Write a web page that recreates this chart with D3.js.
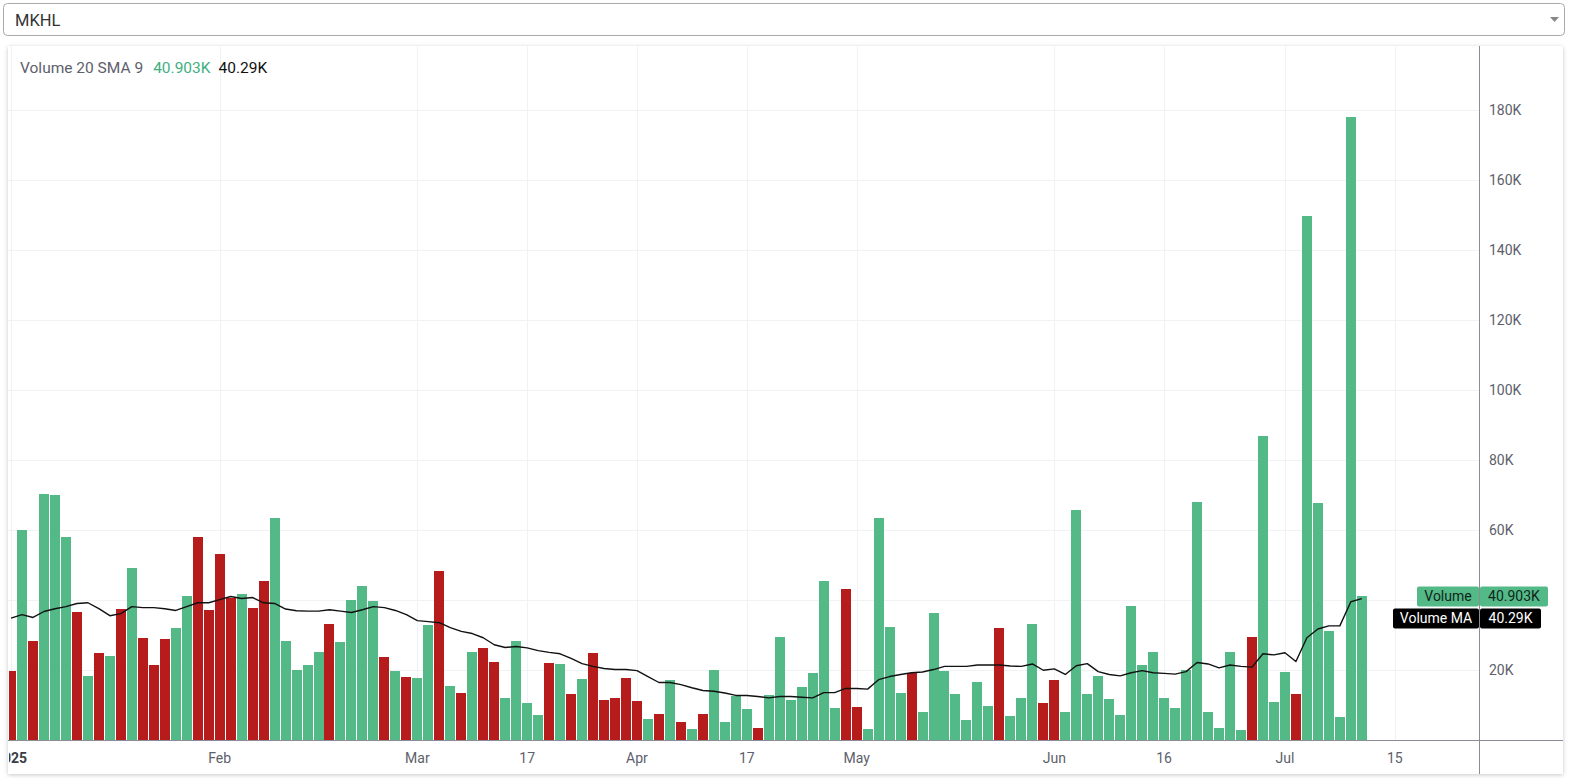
<!DOCTYPE html>
<html>
<head>
<meta charset="utf-8">
<script src="https://cdn.jsdelivr.net/npm/d3@7"></script>
<style>
  html, body { margin: 0; padding: 0; background: #ffffff; }
  svg { display: block; font-family: Roboto, "DejaVu Sans", sans-serif; }
</style>
</head>
<body>
<svg id="chart" width="1571" height="779"></svg>
<script>
// ---- data (volume in thousands) ----
const symbol = "MKHL";
const volumes = [19.7,60,28.3,70.3,70,58,36.6,18.3,24.6,24,37.4,48.9,28.9,21.4,28.6,32,41.1,58,37.1,52.9,
  40.6,41.7,37.7,45.4,63.4,28.3,20,21.4,24.9,32.9,28,40,44,39.7,23.7,19.7,18,17.7,32.6,48.3,
  15.4,13.4,25.1,26.3,22.3,12,28.3,10.3,7.1,22,21.7,13.1,17.4,24.6,11.4,12,17.7,11.1,6,7.4,
  16.9,4.9,2.9,7.4,20,5.1,12.3,8.6,3.4,12.6,29.4,11.4,14.9,19.1,45.4,9.1,43.1,9.4,2.9,63.4,
  32.3,13.4,19.1,8,36.3,19.7,12.9,5.7,16.3,9.7,32,6.6,12,33.1,10.3,17.1,8,65.7,12.9,18.3,
  11.7,6.9,38.3,21.4,25.1,12,8.9,20,68,8,3.4,24.9,2.6,29.4,86.9,10.6,19.4,12.9,149.7,67.7,
  31.1,6.3,178,40.903];
// 1 = up (green), 0 = down (red)
const direction = [0,1,0,1,1,1,0,1,0,1,0,1,0,0,0,1,1,0,0,0,
  0,1,0,0,1,1,1,1,1,0,1,1,1,1,0,1,0,1,1,0,
  1,0,1,0,0,1,1,1,1,0,1,0,1,0,0,0,0,0,1,0,
  1,0,1,0,1,1,1,1,0,1,1,1,1,1,1,1,0,0,1,1,
  1,1,0,1,1,1,1,1,1,1,0,1,1,1,0,0,1,1,1,1,
  1,1,1,1,1,1,1,1,1,1,1,1,1,0,1,1,1,0,1,1,
  1,1,1,1];
const maValues = [34.7,35.7,34.9,36.6,37.4,38,38.9,39.1,37.4,35.4,36,38,37.7,37.7,37.4,36.9,38,39.1,39.1,40,
  40.9,40.3,40.6,39.1,38.9,37.3,36.8,36.7,36.7,37.1,36.7,36.3,37.1,38,37.7,36.9,35.7,34,33.7,33.4,
  32,30.9,30.3,29.1,27.1,26.3,26.6,26.2,25.4,24.9,24.5,23.2,21.7,20.9,20.3,20,20,19.7,18,16.3,
  16.3,15.7,14.8,14,13.8,13.3,12.6,12.6,12.3,11.9,12.3,12.3,12.1,11.9,13.4,13.4,14.6,14.6,14.4,17.1,
  18,18.6,19.1,19.3,20,20.9,20.9,20.9,21.3,21.3,21.3,21,20.9,21.6,19.8,20.2,18.6,21.1,21.7,19.4,
  18.6,18.2,19.1,19.7,19.1,18.9,18.7,19.4,22,21.6,20.5,21.3,20.9,20.7,24.5,24.2,24.8,22.3,29.1,31.6,
  32.5,32.5,39.4,40.29];
const timeTickLabels = ["2025","Feb","Mar","17","Apr","17","May","Jun","16","Jul","15"];
const timeTickIndex  = [0,19,37,47,57,67,77,95,105,116,126];
const yTickValues = [20,40,60,80,100,120,140,160,180];
const legendTitle = "Volume 20 SMA 9";

// ---- styles ----
const GREEN = "#53b987", RED = "#b71c1c", GRID = "#f0f2f6", AXIS = "#8a8d96", TEXT = "#5d606b";

const svg = d3.select("#chart");
const pane = { left: 8, top: 46, right: 1479, bottom: 740 };
const card = { left: 8, top: 46, right: 1563, bottom: 774 };

const x = d3.scaleLinear().domain([0, 126]).range([11.02, 11.02 + 126 * 10.982]);
const y = d3.scaleLinear().domain([0, 180]).range([739.5, 110]);

const defs = svg.append("defs");
const f = defs.append("filter").attr("id", "sh").attr("x", "-2%").attr("y", "-2%").attr("width", "104%").attr("height", "106%");
f.append("feDropShadow").attr("dx", 0).attr("dy", 1).attr("stdDeviation", 2).attr("flood-color", "#000").attr("flood-opacity", 0.22);
defs.append("clipPath").attr("id", "paneClip").append("rect")
  .attr("x", pane.left + 1).attr("y", pane.top).attr("width", pane.right - pane.left - 1).attr("height", pane.bottom - pane.top);
defs.append("clipPath").attr("id", "timeClip").append("rect")
  .attr("x", pane.left + 1).attr("y", pane.bottom).attr("width", pane.right - pane.left - 1).attr("height", card.bottom - pane.bottom);

// select box
svg.append("rect").attr("x", 3.5).attr("y", 3.5).attr("width", 1561).attr("height", 32).attr("rx", 4)
  .attr("fill", "#fff").attr("stroke", "#a9a9a9");
svg.append("text").attr("x", 15).attr("y", 25.5).attr("font-size", 16.5).attr("fill", "#333").text(symbol);
svg.append("path").attr("d", "M1550,17 L1559,17 L1554.5,22 Z").attr("fill", "#888");

// card
svg.append("rect").attr("x", card.left).attr("y", card.top).attr("width", card.right - card.left)
  .attr("height", card.bottom - card.top).attr("fill", "#fff").attr("filter", "url(#sh)");

// grid
const grid = svg.append("g").attr("shape-rendering", "crispEdges");
grid.selectAll("line.h").data(yTickValues).join("line")
  .attr("x1", pane.left).attr("x2", pane.right)
  .attr("y1", d => Math.round(y(d)) + 0.5).attr("y2", d => Math.round(y(d)) + 0.5)
  .attr("stroke", GRID);
grid.selectAll("line.v").data(timeTickIndex).join("line")
  .attr("x1", d => Math.round(x(d)) + 0.5).attr("x2", d => Math.round(x(d)) + 0.5)
  .attr("y1", pane.top).attr("y2", pane.bottom)
  .attr("stroke", GRID).attr("clip-path", "url(#paneClip)");

// bars
const plot = svg.append("g").attr("clip-path", "url(#paneClip)");
plot.selectAll("rect.bar").data(volumes).join("rect")
  .attr("class", "bar")
  .attr("x", (d, i) => Math.round(x(i) - 5))
  .attr("width", 10)
  .attr("y", d => Math.round(y(d)))
  .attr("height", d => 740 - Math.round(y(d)))
  .attr("fill", (d, i) => direction[i] ? GREEN : RED)
  .attr("shape-rendering", "crispEdges");

// MA line
plot.append("path").datum(maValues)
  .attr("d", d3.line().x((d, i) => x(i)).y(d => y(d)))
  .attr("fill", "none").attr("stroke", "#111").attr("stroke-width", 1.4).attr("stroke-linejoin", "round");

// axes lines
svg.append("line").attr("x1", pane.left).attr("x2", card.right).attr("y1", 740.5).attr("y2", 740.5)
  .attr("stroke", AXIS);
svg.append("line").attr("x1", pane.right + 0.5).attr("x2", pane.right + 0.5).attr("y1", card.top).attr("y2", card.bottom)
  .attr("stroke", AXIS);

// last values
const fmtK = v => v + "K";
const lastVol = volumes[volumes.length - 1], lastMA = maValues[maValues.length - 1];
const volY = y(lastVol);

// y labels (a label hidden under the last-value tags is not drawn)
const yAxis = d3.axisRight(y).tickValues(yTickValues).tickFormat(d => d + "K").tickSize(0).tickPadding(0);
const ya = svg.append("g").attr("transform", `translate(${pane.right + 10},0)`).call(yAxis);
ya.select(".domain").remove();
ya.selectAll(".tick").filter(d => y(d) > volY - 18 && y(d) < volY + 34).remove();
ya.selectAll("text").attr("font-size", 14).attr("fill", TEXT).attr("font-family", "Roboto, sans-serif");

// time labels
const tl = svg.append("g").attr("clip-path", "url(#timeClip)");
tl.selectAll("text").data(timeTickIndex).join("text")
  .attr("x", d => x(d)).attr("y", 763)
  .attr("text-anchor", "middle").attr("font-size", 14)
  .attr("font-weight", (d, i) => i === 0 ? "bold" : "normal")
  .attr("fill", (d, i) => i === 0 ? "#3a3d45" : TEXT)
  .text((d, i) => timeTickLabels[i]);

// legend
const leg = svg.append("text").attr("x", 20).attr("y", 72.5).attr("font-size", 15.5);
leg.append("tspan").attr("fill", TEXT).text(legendTitle);
leg.append("tspan").attr("fill", "#3fb07f").attr("dx", 10).text(fmtK(lastVol));
leg.append("tspan").attr("fill", "#111").attr("dx", 8).text(fmtK(lastMA));

// last-value labels
function tag(yc, name, value, bg, fg, nameLeft, valRight) {
  const g = svg.append("g").attr("font-size", 14);
  g.append("rect").attr("x", nameLeft).attr("y", yc - 10).attr("width", pane.right - nameLeft).attr("height", 20)
    .attr("rx", 2).attr("fill", bg);
  g.append("rect").attr("x", pane.right + 1).attr("y", yc - 10).attr("width", valRight - pane.right - 1).attr("height", 20)
    .attr("rx", 2).attr("fill", bg);
  g.append("text").attr("x", (nameLeft + pane.right) / 2).attr("y", yc + 5).attr("text-anchor", "middle").attr("fill", fg).text(name);
  g.append("text").attr("x", (pane.right + 1 + valRight) / 2).attr("y", yc + 5).attr("text-anchor", "middle").attr("fill", fg).text(value);
}
tag(volY, "Volume", fmtK(lastVol), GREEN, "#10261b", 1417, 1548);
tag(volY + 22, "Volume MA", fmtK(lastMA), "#000", "#fff", 1393, 1541);
</script>
</body>
</html>
